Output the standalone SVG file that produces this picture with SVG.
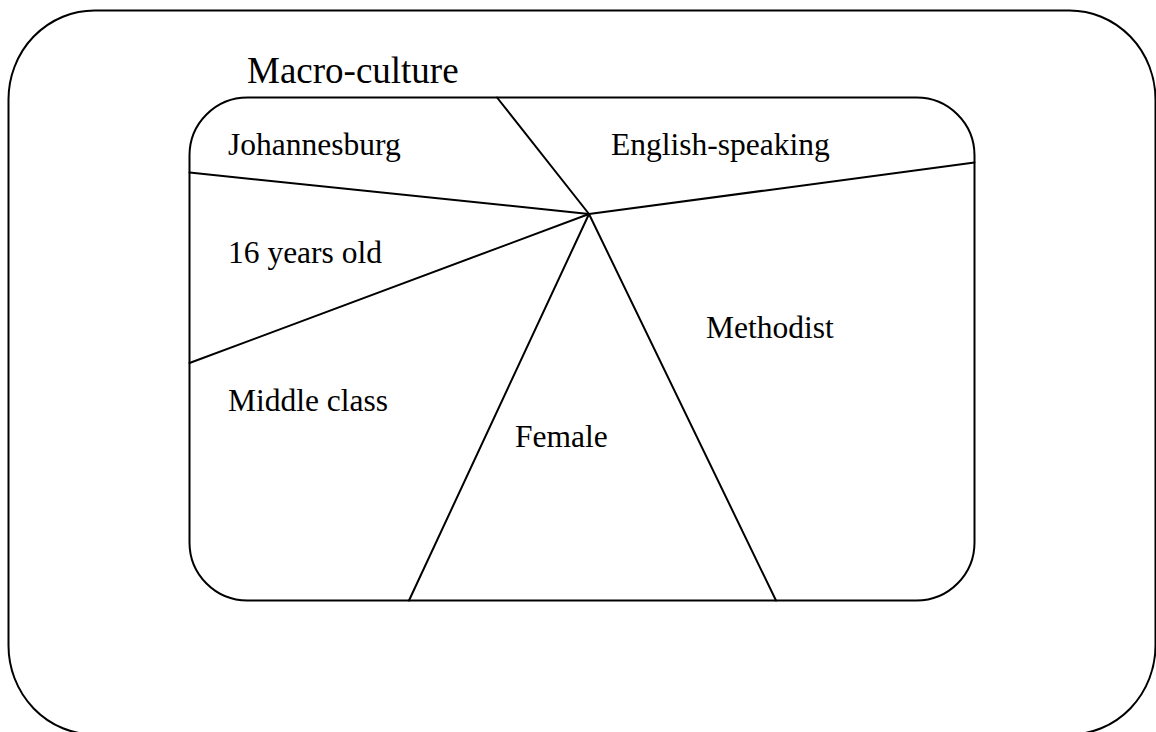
<svg xmlns="http://www.w3.org/2000/svg" width="1156" height="732" viewBox="0 0 1156 732">
  <style>
    .frame { fill: #ffffff; stroke: #000000; stroke-width: 2; }
    .divider { fill: none; stroke: #000000; stroke-width: 2; stroke-linecap: round; }
    .label { font-family: "Liberation Serif", "Times New Roman", serif; font-size: 31.5px; fill: #000000; }
    .title { font-family: "Liberation Serif", "Times New Roman", serif; font-size: 37px; fill: #000000; }
  </style>
  <rect width="1156" height="732" fill="#ffffff"/>

  <!-- outer boundary -->
  <g id="outer">
    <rect class="frame" x="8.5" y="10.5" width="1147" height="724" rx="86" ry="89"/>
  </g>

  <!-- macro-culture title -->
  <g id="title">
    <text class="title" x="247" y="83">Macro-culture</text>
  </g>

  <!-- inner boundary -->
  <g id="inner">
    <rect class="frame" x="189.5" y="97.5" width="785" height="503" rx="58" ry="58"/>
  </g>

  <!-- dividing lines radiating from the shared centre -->
  <g id="connectors">
    <line class="divider" x1="589" y1="214" x2="497" y2="97.5"/>
    <line class="divider" x1="589" y1="214" x2="189.5" y2="172.5"/>
    <line class="divider" x1="589" y1="214" x2="189.5" y2="363"/>
    <line class="divider" x1="589" y1="214" x2="409" y2="600.5"/>
    <line class="divider" x1="589" y1="214" x2="776" y2="600.5"/>
    <line class="divider" x1="589" y1="214" x2="974.5" y2="162.5"/>
  </g>

  <!-- segment labels -->
  <g id="johannesburg"><text class="label" x="228" y="155">Johannesburg</text></g>
  <g id="english-speaking"><text class="label" x="611" y="155">English-speaking</text></g>
  <g id="sixteen"><text class="label" x="228" y="263">16 years old</text></g>
  <g id="methodist"><text class="label" x="706" y="338">Methodist</text></g>
  <g id="middle-class"><text class="label" x="228" y="411">Middle class</text></g>
  <g id="female"><text class="label" x="515" y="447">Female</text></g>
</svg>
